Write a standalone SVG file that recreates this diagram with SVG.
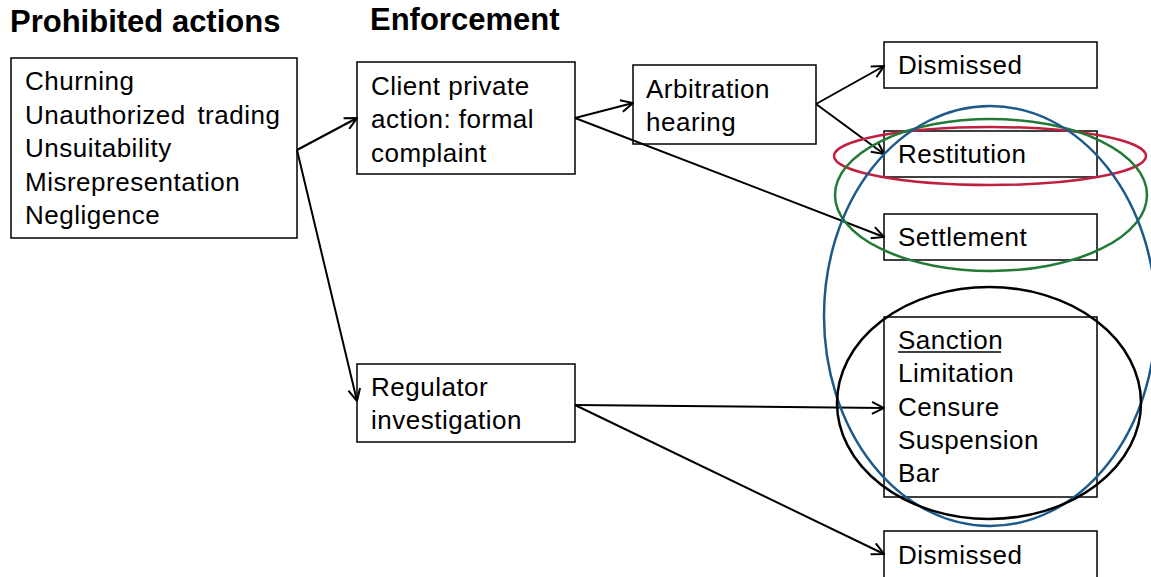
<svg xmlns="http://www.w3.org/2000/svg" width="1151" height="577" viewBox="0 0 1151 577">
<defs>
<marker id="arr" viewBox="0 0 14 14" refX="13" refY="7" markerWidth="14" markerHeight="14" markerUnits="userSpaceOnUse" orient="auto">
<path d="M1,1 L13,7 L1,13" fill="none" stroke="#000" stroke-width="2"/>
</marker>
</defs>
<style>
.box{fill:#fff;stroke:#000;stroke-width:1.5}
.t{font-family:"Liberation Sans",Arial,sans-serif;font-size:26px;letter-spacing:0.5px;fill:#000}
.h{font-family:"Liberation Sans",Arial,sans-serif;font-size:31px;font-weight:bold;fill:#000}
.c{fill:none;stroke:#000;stroke-width:2;marker-end:url(#arr)}
.e{fill:none;stroke-width:2.5}
</style>
<rect width="1151" height="577" fill="#fff"/>
<text class="h" x="10" y="32">Prohibited actions</text>
<text class="h" x="370" y="30">Enforcement</text>

<g id="prohibited">
<rect class="box" x="11" y="58" width="286" height="180"/>
<text class="t" x="25" y="90">Churning</text>
<text class="t" x="25" y="124" word-spacing="4">Unauthorized trading</text>
<text class="t" x="25" y="157">Unsuitability</text>
<text class="t" x="25" y="191">Misrepresentation</text>
<text class="t" x="25" y="224">Negligence</text>
</g>
<g id="client">
<rect class="box" x="357" y="62" width="218" height="112"/>
<text class="t" x="371" y="95">Client private</text>
<text class="t" x="371" y="128">action: formal</text>
<text class="t" x="371" y="162">complaint</text>
</g>
<g id="arbitration">
<rect class="box" x="633" y="65" width="183" height="79"/>
<text class="t" x="646" y="98">Arbitration</text>
<text class="t" x="646" y="131">hearing</text>
</g>
<g id="dismissed1">
<rect class="box" x="884" y="42" width="213" height="46"/>
<text class="t" x="898" y="74">Dismissed</text>
</g>
<g id="restitution">
<rect class="box" x="884" y="131" width="213" height="46"/>
<text class="t" x="898" y="163">Restitution</text>
</g>
<g id="settlement">
<rect class="box" x="884" y="214" width="213" height="46"/>
<text class="t" x="898" y="246">Settlement</text>
</g>
<g id="regulator">
<rect class="box" x="357" y="364" width="218" height="78"/>
<text class="t" x="371" y="396">Regulator</text>
<text class="t" x="371" y="429">investigation</text>
</g>
<g id="sanction">
<rect class="box" x="884" y="317" width="213" height="180"/>
<text class="t" x="898" y="349">Sanction</text>
<line x1="898" y1="352" x2="1001" y2="352" stroke="#000" stroke-width="1.5"/>
<text class="t" x="898" y="382">Limitation</text>
<text class="t" x="898" y="416">Censure</text>
<text class="t" x="898" y="449">Suspension</text>
<text class="t" x="898" y="482">Bar</text>
</g>
<g id="dismissed2">
<rect class="box" x="884" y="531" width="213" height="60"/>
<text class="t" x="898" y="564">Dismissed</text>
</g>

<g id="connectors">
<line class="c" x1="297" y1="150" x2="357" y2="118"/>
<line class="c" x1="297" y1="150" x2="357" y2="401"/>
<line class="c" x1="575" y1="118" x2="633" y2="103"/>
<line class="c" x1="575" y1="118" x2="884" y2="237"/>
<line class="c" x1="816" y1="104" x2="884" y2="66"/>
<line class="c" x1="816" y1="104" x2="884" y2="154"/>
<line class="c" x1="575" y1="405" x2="884" y2="408"/>
<line class="c" x1="575" y1="405" x2="884" y2="554"/>
</g>

<g id="groupings">
<ellipse class="e" cx="990" cy="156" rx="156" ry="29" stroke="#C0203F"/>
<ellipse class="e" cx="991" cy="195" rx="156" ry="76" stroke="#237A36"/>
<ellipse class="e" cx="990" cy="316" rx="166" ry="210" stroke="#1D5A8A"/>
<ellipse class="e" cx="989" cy="403" rx="152" ry="116" stroke="#000"/>
</g>
</svg>
